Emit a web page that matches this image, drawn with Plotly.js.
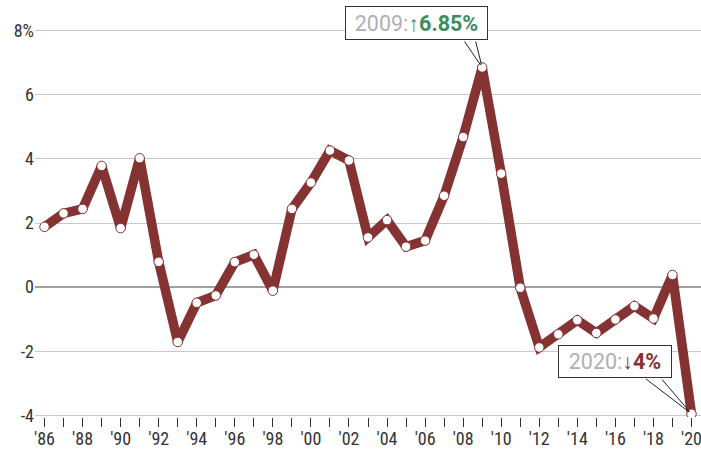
<!DOCTYPE html>
<html>
<head>
<meta charset="utf-8">
<script src="https://cdn.plot.ly/plotly-3.0.1.min.js"></script>
<style>html,body{margin:0;padding:0;background:#fff;}#chart{width:701px;height:451px;}</style>
</head>
<body>
<div id="chart"></div>
<script>
const years = [1986,1987,1988,1989,1990,1991,1992,1993,1994,1995,1996,1997,1998,1999,2000,2001,2002,2003,2004,2005,2006,2007,2008,2009,2010,2011,2012,2013,2014,2015,2016,2017,2018,2019,2020];
const values = [1.88,2.30,2.44,3.78,1.84,4.02,0.79,-1.71,-0.49,-0.26,0.78,1.01,-0.11,2.44,3.26,4.26,3.95,1.55,2.09,1.26,1.45,2.85,4.68,6.85,3.54,-0.02,-1.88,-1.47,-1.03,-1.43,-1.01,-0.59,-0.98,0.38,-3.95];
const yTickVals = [-4,-2,0,2,4,6,8];
const yTickText = ['-4','-2','0','2','4','6','8%'];
const xTickText = years.map(y => (y % 2 === 0) ? "'" + String(y).slice(2) : '');

const lineColor = '#853232';
const tickFont = {family: '"Roboto Condensed", Roboto, sans-serif', size: 18, color: '#333'};
const annFont = {family: 'Roboto, sans-serif', size: 21.5, color: '#b0b0b0'};

const iPeak = years.indexOf(2009);
const iLast = years.indexOf(2020);

function tail(i, ax, ay) {
  return {x: years[i], y: values[i], xref: 'x', yref: 'y', text: ' ', font: {size: 1},
    showarrow: true, arrowhead: 0, arrowwidth: 1, arrowcolor: '#222', ax: ax, ay: ay, standoff: 3, startstandoff: 0};
}

const annotations = [
  tail(iPeak, -19, -28), tail(iPeak, -7, -28),
  tail(iLast, -47, -36), tail(iLast, -31, -36),
  {x: years[iPeak], y: values[iPeak], xref: 'x', yref: 'y', showarrow: false,
   xanchor: 'right', yanchor: 'bottom', xshift: 6, yshift: 27, width: 135, height: 26, align: 'center', valign: 'middle',
   text: '<span style="color:#b0b0b0">' + years[iPeak] + ':</span><b style="color:#3e8c5f">↑' + values[iPeak] + '%</b>',
   font: annFont, bgcolor: '#fff', bordercolor: '#333', borderwidth: 1, borderpad: 3},
  {x: years[iLast], y: values[iLast], xref: 'x', yref: 'y', showarrow: false,
   xanchor: 'right', yanchor: 'bottom', xshift: -19, yshift: 36, width: 106, height: 25, align: 'center', valign: 'middle',
   text: '<span style="color:#b0b0b0">' + years[iLast] + ':</span><b style="color:' + lineColor + '">↓' + Math.round(Math.abs(values[iLast])) + '%</b>',
   font: annFont, bgcolor: '#fff', bordercolor: '#333', borderwidth: 1, borderpad: 3}
];

const trace = {
  x: years, y: values, type: 'scatter', mode: 'lines+markers',
  line: {color: lineColor, width: 9.5},
  marker: {color: '#fff', size: 9.5, line: {color: lineColor, width: 1}},
  hoverinfo: 'skip'
};

const layout = {
  width: 701, height: 451,
  margin: {l: 35, r: 0, t: 29, b: 34, pad: 0},
  paper_bgcolor: '#fff', plot_bgcolor: '#fff',
  showlegend: false,
  xaxis: {range: [1985.5, 2020.5], tickvals: years, ticktext: xTickText, ticks: 'outside', ticklen: 9,
    tickcolor: '#333', tickwidth: 1, showgrid: false, zeroline: false, showline: false,
    tickfont: tickFont, ticklabeloverflow: 'allow', ticklabelstandoff: -4, fixedrange: true},
  yaxis: {range: [-4.05, 8.05], tickvals: yTickVals, ticktext: yTickText, ticks: '', showgrid: true,
    gridcolor: '#c8c8c8', gridwidth: 1, zeroline: true, zerolinecolor: '#a0a0a0', zerolinewidth: 2,
    showline: false, tickfont: tickFont, fixedrange: true},
  annotations: annotations
};

Plotly.newPlot('chart', [trace], layout, {displayModeBar: false, staticPlot: true});
</script>
</body>
</html>
